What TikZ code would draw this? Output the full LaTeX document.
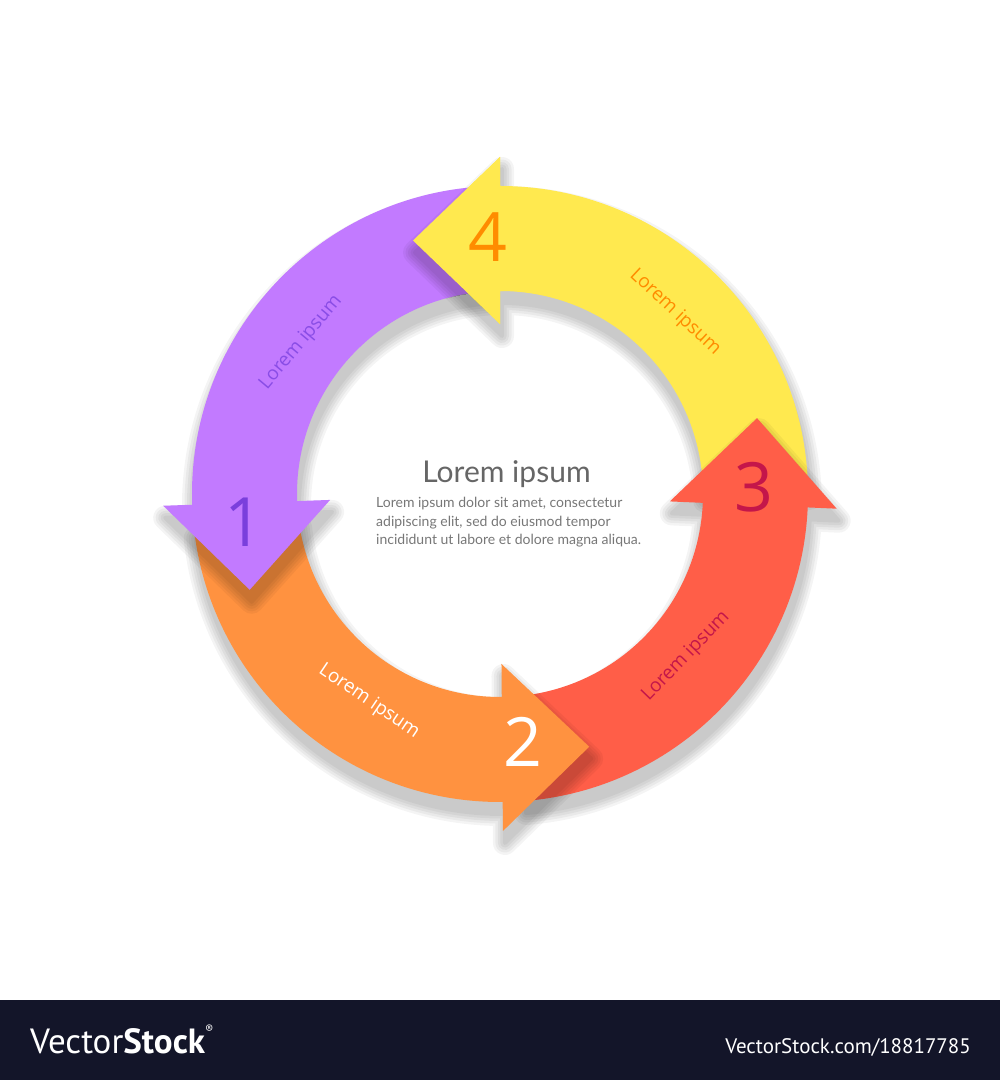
\documentclass[tikz,border=0pt]{standalone}
\usepackage{fontspec}
\setmainfont{Lato}
\newfontfamily\labfont{Open Sans}
\newfontfamily\wmfont{PT Sans}
\usetikzlibrary{calc}
\definecolor{purpc}{HTML}{C27AFF}
\definecolor{yellc}{HTML}{FFE94F}
\definecolor{orngc}{HTML}{FF9240}
\definecolor{redc}{HTML}{FF5E48}
\definecolor{purptxt}{HTML}{8A4DE6}
\definecolor{purpnum}{HTML}{7A3FDC}
\definecolor{yelltxt}{HTML}{FF8C00}
\definecolor{redtxt}{HTML}{C4164A}
\definecolor{titlec}{HTML}{666666}
\definecolor{bodyc}{HTML}{777777}
\definecolor{barc}{HTML}{131529}
% #1 centre, #2 tail angle, #3 head base angle, #4 options
\newcommand\ringarrow[4]{%
  \path[#4] ($(#1)+(#2:308)$) arc[start angle=#2, end angle=#3, radius=308]
    -- ($(#1)+(#3:337)$) -- ($(#1)+(#3:253.5)+(#3+90:87)$) -- ($(#1)+(#3:170)$)
    -- ($(#1)+(#3:203)$) arc[start angle=#3, end angle=#2, radius=203] -- cycle;}
\newcommand\ringhead[3]{%
  \path[#3] ($(#1)+(#2:337)$) -- ($(#1)+(#2:253.5)+(#2+90:87)$) -- ($(#1)+(#2:170)$) -- cycle;}
% soft shadow: stacked dilated copies, each one a transparency group
\newcommand\ringshadow[2]{%
  \foreach \w in {24,19,14,9,4}{%
    \begin{scope}[transparency group, opacity=0.042]
      \ringarrow{Cs}{#1}{#2}{fill=black, draw=black, line width=\w pt, line join=round}
    \end{scope}}}
\newcommand\headshadow[1]{%
  \foreach \w in {24,19,14,9,4}{%
    \begin{scope}[transparency group, opacity=0.042]
      \ringhead{Cs}{#1}{fill=black, draw=black, line width=\w pt, line join=round}
    \end{scope}}}
\begin{document}
\begin{tikzpicture}[x=1pt,y=1pt,
  numlabel/.style={font=\labfont\fontsize{68}{68}\selectfont, inner sep=0pt},
  bandlabel/.style={font=\labfont\fontsize{19}{19}\selectfont, inner sep=0pt},
  bodytext/.style={font=\fontsize{14}{19}\selectfont, text=bodyc, inner sep=0pt, anchor=base west}]
\useasboundingbox (0,0) rectangle (1000,1080);
\fill[white] (0,0) rectangle (1000,1080);
\coordinate (C) at (500,586);
\coordinate (Cs) at (502,574);
% arrows: yellow, red, orange, purple (each over the previous one's tail)
\ringshadow{1.5}{90}
\ringarrow{C}{1.5}{90}{fill=yellc}
\ringshadow{274.5}{357.5}
\ringarrow{C}{274.5}{357.5}{fill=redc}
\ringshadow{186}{270.5}
\ringarrow{C}{186}{270.5}{fill=orngc}
\ringshadow{94}{182}
\ringarrow{C}{94}{182}{fill=purpc}
% yellow head back on top of the purple tail
\begin{scope}
  \clip ($(C)+(90:308)$) arc[start angle=90, end angle=135, radius=308]
    -- ($(C)+(135:203)$) arc[start angle=135, end angle=90, radius=203] -- cycle;
  \headshadow{90}
\end{scope}
\begin{scope}
  \clip (0,0) rectangle ($(C)+(3,494)$);
  \ringarrow{C}{80}{90}{fill=yellc}
\end{scope}
% numbers
\node[numlabel, text=purpnum] (n1) at (244,558) {1};
\node[numlabel, text=white] (n2) at (523,338) {2};
\node[numlabel, text=redtxt] (n3) at (754,593) {3};
\node[numlabel, text=yelltxt] (n4) at (488,843) {4};
% band labels
\node[bandlabel, text=purptxt, rotate=50] (l1) at (301,737.5) {Lorem ipsum};
\node[bandlabel, text=white, rotate=-34] (l2) at (369,378.5) {Lorem ipsum};
\node[bandlabel, text=redtxt, rotate=46] (l3) at (686,423.5) {Lorem ipsum};
\node[bandlabel, text=yelltxt, rotate=-43] (l4) at (675,767.5) {Lorem ipsum};
% centre text
\node[font=\fontsize{30}{30}\selectfont, text=titlec, inner sep=0pt, anchor=base] (title) at (506.5,597) {Lorem ipsum};
\node[bodytext] (b1) at (376,572) {Lorem ipsum dolor sit amet, consectetur};
\node[bodytext] (b2) at (376,553) {adipiscing elit, sed do eiusmod tempor};
\node[bodytext] (b3) at (376,535) {incididunt ut labore et dolore magna aliqua.};
% watermark bar
\fill[barc] (0,0) rectangle (1000,80);
\node[font=\wmfont\fontsize{35}{35}\selectfont, text=white, inner sep=0pt, anchor=base west] (wm1) at (30,27) {Vector\textbf{Stock}\raisebox{0.55em}{\fontsize{12}{12}\selectfont®}};
\node[font=\wmfont\fontsize{21}{21}\selectfont, text=white, inner sep=0pt, anchor=base east] (wm2) at (971,27) {VectorStock.com/18817785};
\end{tikzpicture}
\end{document}
